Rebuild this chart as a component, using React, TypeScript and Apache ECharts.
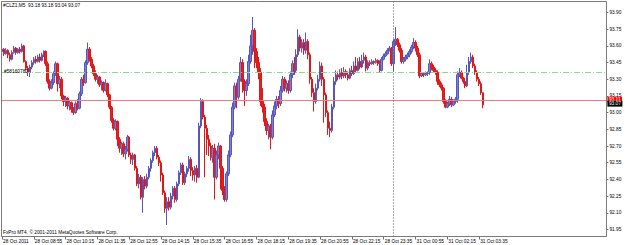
import React, { useEffect, useRef } from "react";
import * as echarts from "echarts";

const symbolTitle = "#CLZ1,M5  93.18 93.18 93.04 93.07";
const copyrightText = "FxPro MT4, \u00A9 2001-2011 MetaQuotes Software Corp.";
const orderLabel = "#58160780";

const tickLabels = [
  "28 Oct 2011", "28 Oct 08:55", "28 Oct 10:15", "28 Oct 11:35", "28 Oct 12:55",
  "28 Oct 14:15", "28 Oct 15:35", "28 Oct 16:55", "28 Oct 18:15", "28 Oct 19:35",
  "28 Oct 20:55", "28 Oct 22:15", "28 Oct 23:35", "31 Oct 00:55", "31 Oct 02:15",
  "31 Oct 03:35",
];
const barsPerLabel = 16;
const slotCount = 305;
const daySeparatorIndex = 197;

const priceTicks = [91.95, 92.1, 92.25, 92.4, 92.55, 92.7, 92.85, 93.0, 93.15, 93.3, 93.45, 93.6, 93.75, 93.9];
const priceMin = 91.887;
const priceMax = 93.999;
const askPrice = 93.11;
const bidPrice = 93.07;
const orderPrice = 93.36;

// [open, close, low, high]
const barsA = [
  [93.55, 93.57, 93.53, 93.59], [93.57, 93.53, 93.51, 93.58], [93.53, 93.56, 93.52, 93.58], [93.56, 93.52, 93.49, 93.57],
  [93.52, 93.48, 93.46, 93.54], [93.48, 93.54, 93.47, 93.56], [93.54, 93.58, 93.53, 93.6], [93.58, 93.54, 93.52, 93.59],
  [93.54, 93.57, 93.53, 93.58], [93.57, 93.55, 93.53, 93.59], [93.55, 93.6, 93.54, 93.62], [93.6, 93.46, 93.45, 93.61],
  [93.46, 93.4, 93.38, 93.47], [93.4, 93.36, 93.33, 93.42], [93.36, 93.41, 93.32, 93.43], [93.41, 93.45, 93.39, 93.47],
  [93.45, 93.48, 93.43, 93.5], [93.48, 93.46, 93.44, 93.51], [93.46, 93.5, 93.45, 93.52], [93.5, 93.47, 93.45, 93.53],
  [93.47, 93.52, 93.46, 93.54], [93.52, 93.55, 93.5, 93.56], [93.55, 93.44, 93.42, 93.56], [93.44, 93.28, 93.26, 93.46],
  [93.28, 93.22, 93.2, 93.3], [93.22, 93.27, 93.21, 93.3], [93.27, 93.35, 93.25, 93.37], [93.35, 93.44, 93.33, 93.46],
  [93.44, 93.26, 93.19, 93.45], [93.26, 93.3, 93.22, 93.33], [93.3, 93.15, 93.12, 93.32], [93.15, 93.1, 93.06, 93.16],
  [93.1, 93.13, 93.05, 93.15], [93.13, 93.06, 93.03, 93.14], [93.06, 93.09, 93.02, 93.11], [93.09, 93.03, 93.0, 93.1],
  [93.03, 93.0, 92.98, 93.05], [93.0, 93.08, 92.99, 93.1], [93.08, 93.04, 93.02, 93.12], [93.04, 93.17, 93.03, 93.19],
  [93.17, 93.3, 93.15, 93.32], [93.3, 93.27, 93.24, 93.34], [93.27, 93.45, 93.26, 93.47], [93.45, 93.57, 93.43, 93.63],
  [93.57, 93.48, 93.46, 93.59], [93.48, 93.42, 93.4, 93.5], [93.42, 93.35, 93.33, 93.44], [93.35, 93.3, 93.28, 93.38],
  [93.3, 93.32, 93.26, 93.34], [93.32, 93.25, 93.23, 93.33], [93.25, 93.27, 93.2, 93.29], [93.27, 93.2, 93.18, 93.28],
  [93.2, 93.26, 93.19, 93.3], [93.26, 93.16, 93.14, 93.27], [93.16, 93.05, 93.03, 93.17], [93.05, 92.93, 92.91, 93.06],
  [92.93, 92.86, 92.84, 92.95], [92.86, 92.92, 92.84, 92.94], [92.92, 92.76, 92.7, 92.93], [92.76, 92.68, 92.64, 92.78],
];
const barsB = [
  [92.68, 92.72, 92.62, 92.74], [92.72, 92.63, 92.6, 92.74], [92.63, 92.67, 92.58, 92.7], [92.67, 92.78, 92.65, 92.8],
  [92.78, 92.62, 92.6, 92.79], [92.62, 92.58, 92.54, 92.64], [92.58, 92.62, 92.53, 92.64], [92.62, 92.5, 92.48, 92.63],
  [92.5, 92.36, 92.34, 92.52], [92.36, 92.42, 92.32, 92.45], [92.42, 92.24, 92.22, 92.44], [92.24, 92.4, 92.1, 92.42],
  [92.4, 92.34, 92.31, 92.43], [92.34, 92.42, 92.32, 92.45], [92.42, 92.5, 92.4, 92.52], [92.5, 92.57, 92.47, 92.59],
  [92.57, 92.64, 92.55, 92.66], [92.64, 92.68, 92.61, 92.7], [92.68, 92.6, 92.58, 92.7], [92.6, 92.55, 92.52, 92.62],
  [92.55, 92.44, 92.38, 92.57], [92.44, 92.28, 92.26, 92.46], [92.28, 92.14, 92.1, 92.3], [92.14, 92.2, 91.99, 92.24],
  [92.2, 92.15, 92.12, 92.24], [92.15, 92.25, 92.13, 92.28], [92.25, 92.32, 92.22, 92.34], [92.32, 92.22, 92.19, 92.34],
  [92.22, 92.36, 92.2, 92.38], [92.36, 92.46, 92.34, 92.48], [92.46, 92.53, 92.44, 92.55], [92.53, 92.37, 92.35, 92.55],
  [92.37, 92.45, 92.35, 92.47], [92.45, 92.5, 92.42, 92.52], [92.5, 92.58, 92.47, 92.61], [92.58, 92.48, 92.43, 92.6],
  [92.48, 92.44, 92.39, 92.51], [92.44, 92.5, 92.38, 92.52], [92.5, 92.42, 92.37, 92.53], [92.42, 92.88, 92.41, 92.91],
  [92.88, 93.1, 92.86, 93.13], [93.1, 92.96, 92.94, 93.12], [92.96, 92.86, 92.42, 92.98], [92.86, 92.76, 92.62, 92.89],
  [92.76, 92.7, 92.61, 92.8], [92.7, 92.6, 92.57, 92.73], [92.6, 92.68, 92.55, 92.71], [92.68, 92.42, 92.22, 92.72],
  [92.42, 92.62, 92.4, 92.66], [92.62, 92.7, 92.58, 92.73], [92.7, 92.5, 92.31, 92.71], [92.5, 92.3, 92.26, 92.52],
  [92.3, 92.22, 92.2, 92.34], [92.22, 92.45, 92.2, 92.47], [92.45, 92.62, 92.43, 92.66], [92.62, 92.8, 92.6, 92.83],
  [92.8, 93.05, 92.78, 93.09], [93.05, 93.24, 93.03, 93.27], [93.24, 93.14, 93.04, 93.27], [93.14, 93.3, 93.12, 93.33],
];
const barsC = [
  [93.3, 93.45, 93.28, 93.5], [93.45, 93.28, 93.18, 93.48], [93.28, 93.2, 93.06, 93.3], [93.2, 93.26, 93.15, 93.3],
  [93.26, 93.46, 93.24, 93.52], [93.46, 93.6, 93.44, 93.7], [93.6, 93.74, 93.52, 93.86], [93.74, 93.55, 93.4, 93.76],
  [93.55, 93.45, 93.4, 93.58], [93.45, 93.36, 93.3, 93.5], [93.36, 93.1, 93.06, 93.4], [93.1, 93.05, 93.0, 93.22],
  [93.05, 92.92, 92.88, 93.08], [92.92, 92.84, 92.8, 92.95], [92.84, 92.88, 92.76, 92.9], [92.88, 92.78, 92.67, 92.9],
  [92.78, 92.98, 92.76, 93.02], [92.98, 93.06, 92.96, 93.1], [93.06, 93.12, 93.03, 93.15], [93.12, 93.08, 93.04, 93.15],
  [93.08, 93.2, 93.06, 93.24], [93.2, 93.3, 93.18, 93.33], [93.3, 93.22, 93.19, 93.32], [93.22, 93.26, 93.18, 93.29],
  [93.26, 93.2, 93.17, 93.29], [93.2, 93.34, 93.18, 93.37], [93.34, 93.44, 93.31, 93.47], [93.44, 93.38, 93.34, 93.5],
  [93.38, 93.52, 93.36, 93.57], [93.52, 93.68, 93.5, 93.75], [93.68, 93.58, 93.55, 93.7], [93.58, 93.63, 93.54, 93.66],
  [93.63, 93.56, 93.52, 93.66], [93.56, 93.64, 93.53, 93.72], [93.64, 93.52, 93.48, 93.66], [93.52, 93.3, 93.26, 93.54],
  [93.3, 93.18, 93.14, 93.32], [93.18, 93.1, 93.01, 93.22], [93.1, 93.22, 93.08, 93.26], [93.22, 93.3, 93.2, 93.34],
  [93.3, 93.42, 93.28, 93.46], [93.42, 93.3, 93.24, 93.45], [93.3, 93.16, 92.91, 93.32], [93.16, 93.0, 92.96, 93.18],
  [93.0, 92.86, 92.8, 93.02], [92.86, 92.84, 92.78, 92.92], [92.84, 93.05, 92.82, 93.08], [93.05, 93.28, 93.03, 93.32],
  [93.28, 93.34, 93.25, 93.38], [93.34, 93.32, 93.29, 93.37], [93.32, 93.36, 93.3, 93.39], [93.36, 93.33, 93.3, 93.4],
  [93.33, 93.37, 93.31, 93.41], [93.37, 93.34, 93.31, 93.39], [93.34, 93.31, 93.29, 93.37], [93.31, 93.38, 93.3, 93.4],
  [93.38, 93.35, 93.33, 93.42], [93.35, 93.42, 93.34, 93.46], [93.42, 93.38, 93.36, 93.5], [93.38, 93.46, 93.37, 93.49],
];
const barsD = [
  [93.46, 93.41, 93.39, 93.5], [93.41, 93.47, 93.4, 93.52], [93.47, 93.5, 93.44, 93.54], [93.5, 93.4, 93.37, 93.52],
  [93.4, 93.45, 93.38, 93.47], [93.45, 93.44, 93.42, 93.47], [93.44, 93.46, 93.43, 93.48], [93.46, 93.45, 93.43, 93.47],
  [93.45, 93.47, 93.44, 93.49], [93.47, 93.44, 93.42, 93.48], [93.44, 93.38, 93.36, 93.47], [93.38, 93.48, 93.37, 93.5],
  [93.48, 93.51, 93.47, 93.53], [93.51, 93.53, 93.5, 93.55], [93.53, 93.56, 93.52, 93.58], [93.56, 93.58, 93.55, 93.6],
  [93.58, 93.44, 93.42, 93.59], [93.44, 93.64, 93.37, 93.66], [93.64, 93.66, 93.6, 93.77], [93.66, 93.61, 93.59, 93.67],
  [93.61, 93.56, 93.54, 93.63], [93.56, 93.46, 93.44, 93.58], [93.46, 93.48, 93.44, 93.5], [93.48, 93.5, 93.46, 93.52],
  [93.5, 93.52, 93.48, 93.54], [93.52, 93.55, 93.5, 93.57], [93.55, 93.59, 93.53, 93.61], [93.59, 93.63, 93.57, 93.67],
  [93.63, 93.58, 93.55, 93.65], [93.58, 93.52, 93.5, 93.6], [93.52, 93.33, 93.31, 93.54], [93.33, 93.35, 93.32, 93.36],
  [93.35, 93.34, 93.32, 93.36], [93.34, 93.35, 93.33, 93.37], [93.35, 93.36, 93.33, 93.37], [93.36, 93.44, 93.34, 93.48],
  [93.44, 93.41, 93.38, 93.46], [93.41, 93.38, 93.36, 93.43], [93.38, 93.36, 93.34, 93.4], [93.36, 93.28, 93.25, 93.38],
  [93.28, 93.25, 93.23, 93.3], [93.25, 93.22, 93.2, 93.27], [93.22, 93.1, 93.08, 93.23], [93.1, 93.05, 93.04, 93.12],
  [93.05, 93.08, 93.04, 93.1], [93.08, 93.12, 93.06, 93.15], [93.12, 93.07, 93.05, 93.14], [93.07, 93.1, 93.06, 93.12],
  [93.1, 93.12, 93.08, 93.14], [93.12, 93.34, 93.09, 93.37], [93.34, 93.36, 93.32, 93.4], [93.36, 93.31, 93.3, 93.38],
  [93.31, 93.28, 93.26, 93.32], [93.28, 93.24, 93.22, 93.3], [93.24, 93.36, 93.23, 93.43], [93.36, 93.46, 93.34, 93.5],
  [93.46, 93.5, 93.44, 93.54], [93.5, 93.42, 93.4, 93.52], [93.42, 93.36, 93.34, 93.44], [93.36, 93.3, 93.28, 93.38],
  [93.3, 93.26, 93.24, 93.32], [93.26, 93.18, 93.16, 93.28], [93.18, 93.07, 93.04, 93.18],
];

const FONT = "'Liberation Sans', Arial, sans-serif";
const FS = 4.8;

export default function App() {
  const ref = useRef<HTMLDivElement>(null);

  useEffect(() => {
    if (!ref.current) return;
    const chart = echarts.init(ref.current, null, { renderer: "svg" });
    const bars = [...barsA, ...barsB, ...barsC, ...barsD];
    const slots = Array.from({ length: slotCount }, (_, i) => String(i));
    const lastLabelIndex = (tickLabels.length - 1) * barsPerLabel;
    const showTick = (index: number) => index % barsPerLabel === 0 && index <= lastLabelIndex;

    chart.setOption({
      animation: false,
      backgroundColor: "#ffffff",
      grid: { left: 1.7, top: 1.5, width: 604.7, height: 235, containLabel: false },
      xAxis: {
        type: "category",
        data: slots,
        boundaryGap: false,
        axisLine: { show: false },
        axisTick: { show: true, interval: showTick, length: 3, lineStyle: { color: "#6f6f6f", width: 1 } },
        axisLabel: {
          show: true,
          interval: showTick,
          formatter: (_v: string, index: number) => tickLabels[Math.round(index / barsPerLabel)] ?? "",
          align: "left",
          margin: 2,
          padding: [0, 0, 0, 1],
          fontSize: FS,
          fontFamily: FONT,
          color: "#000",
        },
        splitLine: { show: false },
      },
      yAxis: {
        type: "value",
        position: "right",
        min: priceMin,
        max: priceMax,
        scale: true,
        axisLine: { show: false },
        axisTick: { show: true, length: 2, customValues: priceTicks, lineStyle: { color: "#6f6f6f" } },
        axisLabel: {
          show: true,
          customValues: priceTicks,
          formatter: (v: number) => v.toFixed(2),
          margin: 3,
          fontSize: FS,
          fontFamily: FONT,
          color: "#000",
        },
        splitLine: { show: false },
      },
      series: [
        {
          type: "candlestick",
          data: bars,
          barWidth: 2,
          itemStyle: {
            color: "#8080d6",
            color0: "#e42020",
            borderColor: "#5656bc",
            borderColor0: "#de1818",
            borderWidth: 1,
          },
          markLine: {
            silent: true,
            symbol: ["none", "none"],
            animation: false,
            data: [
              {
                yAxis: orderPrice,
                lineStyle: { color: "#8fd88f", width: 1, type: [6, 2, 1, 2] },
                label: { show: false },
              },
              {
                yAxis: askPrice,
                lineStyle: { color: "#f27a7a", width: 1, type: "solid" },
                label: {
                  show: true,
                  position: "end",
                  formatter: askPrice.toFixed(2),
                  distance: 1,
                  backgroundColor: "#ff0000",
                  color: "#ffffff",
                  padding: [0.6, 1.5, 0.3, 1.5],
                  fontSize: FS,
                  fontFamily: FONT,
                  offset: [0, -0.8],
                },
              },
              {
                yAxis: bidPrice,
                lineStyle: { color: "rgba(0,0,0,0)", width: 0 },
                label: {
                  show: true,
                  position: "end",
                  formatter: bidPrice.toFixed(2),
                  distance: 1,
                  backgroundColor: "#000000",
                  color: "#ffffff",
                  padding: [0.6, 1.5, 0.3, 1.5],
                  fontSize: FS,
                  fontFamily: FONT,
                  offset: [0, -1.2],
                },
              },
              {
                xAxis: String(daySeparatorIndex),
                lineStyle: { color: "#555555", width: 1, type: [1, 2] },
                label: { show: false },
              },
            ],
          },
        },
      ],
      graphic: [
        {
          type: "rect",
          shape: { x: 1.5, y: 1.5, width: 605, height: 235 },
          style: { fill: "none", stroke: "#7a7a7a", lineWidth: 1 },
          silent: true,
          z: 10,
        },
        {
          type: "text",
          x: 3,
          y: 5,
          style: { text: symbolTitle, font: `${FS}px ${FONT}`, fill: "#000", verticalAlign: "middle" },
          z: 11,
        },
        {
          type: "text",
          x: 4,
          y: 71,
          style: { text: orderLabel, font: `${FS}px ${FONT}`, fill: "#000", verticalAlign: "middle" },
          z: 11,
        },
        {
          type: "text",
          x: 3,
          y: 232,
          style: { text: copyrightText, font: `${FS}px ${FONT}`, fill: "#000", verticalAlign: "middle" },
          z: 11,
        },
      ],
    });

    return () => chart.dispose();
  }, []);

  return (
    <div
      ref={ref}
      style={{ position: "fixed", left: 0, top: 0, width: 625, height: 245, background: "#fff" }}
    />
  );
}
